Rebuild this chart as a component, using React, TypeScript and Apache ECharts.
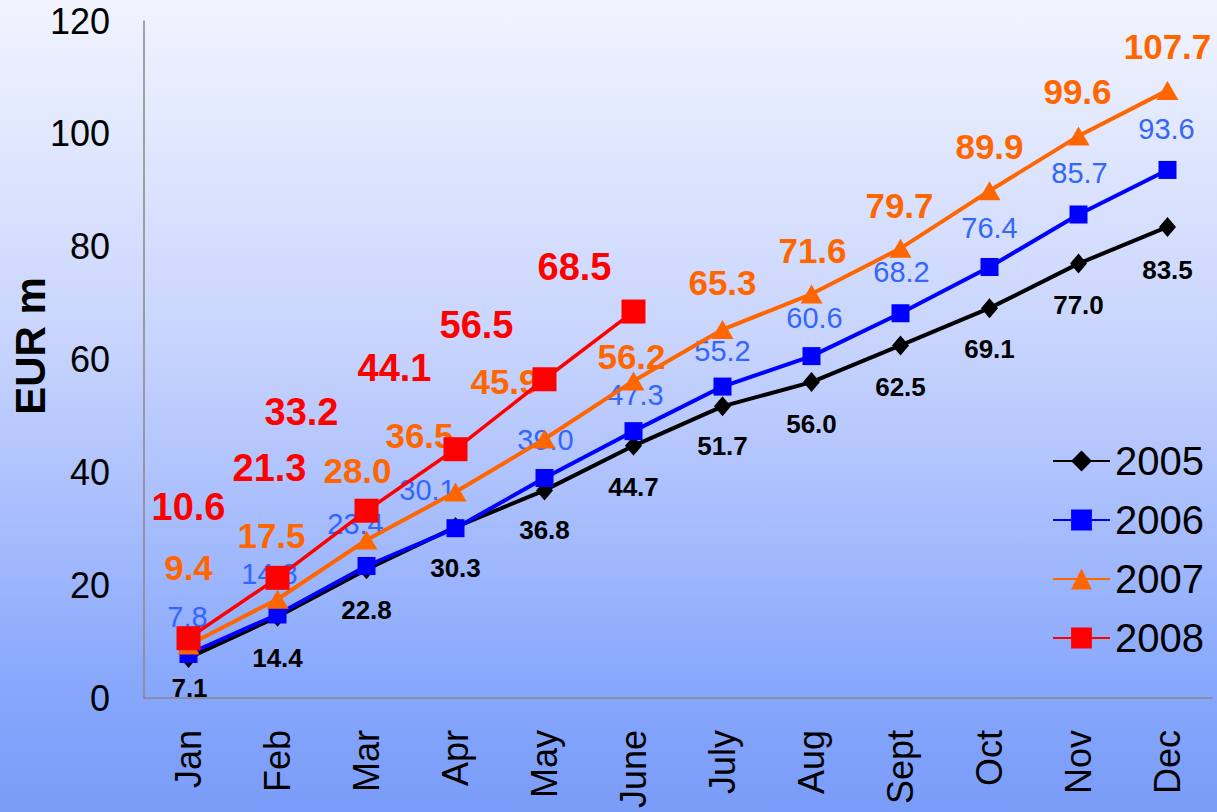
import React, { useEffect, useRef } from "react";
import * as echarts from "echarts";

const months = ["Jan", "Feb", "Mar", "Apr", "May", "June", "July", "Aug", "Sept", "Oct", "Nov", "Dec"];
const years = ["2005", "2006", "2007", "2008"];
const v2005 = [7.1, 14.4, 22.8, 30.3, 36.8, 44.7, 51.7, 56.0, 62.5, 69.1, 77.0, 83.5];
const v2006 = [7.8, 14.8, 23.4, 30.1, 39.0, 47.3, 55.2, 60.6, 68.2, 76.4, 85.7, 93.6];
const v2007 = [9.4, 17.5, 28.0, 36.5, 45.9, 56.2, 65.3, 71.6, 79.7, 89.9, 99.6, 107.7];
const v2008 = [10.6, 21.3, 33.2, 44.1, 56.5, 68.5];
const yTicks = { min: 0, max: 120, interval: 20 };

// label offsets (style only): [dx, dy] from each marker centre
const off2005 = [[1, 30], [0, 41], [0, 41], [0, 41], [0, 40], [0, 41], [0, 40], [0, 42], [0, 42], [0, 41], [0, 41], [0, 43]];
const off2006 = [[-1, -37], [-8, -41], [-11, -42], [-28, -38], [1, -38], [2, -36], [0, -36], [3, -38], [1, -41], [0, -39], [1, -42], [-1, -41]];
const off2007 = [[0, -77], [-6, -64], [-9, -70], [-36, -57], [-40, -58], [-2, -24], [0, -47], [1, -44], [-1, -43], [0, -44], [-1, -45], [0, -44]];
const off2008 = [[0, -131], [-8, -110], [-65, -99], [-61, -81], [-68, -54], [-59, -45]];

const FONT = "'Liberation Sans', Arial, sans-serif";

function withOffsets(vals: number[], offs: number[][]) {
  return vals.map((v, i) => ({ value: v, label: { offset: offs[i] } }));
}

export default function App() {
  const ref = useRef<HTMLDivElement>(null);
  useEffect(() => {
    document.body.style.margin = "0";
    const chart = echarts.init(ref.current!, null, { renderer: "svg" });
    const fmt = (p: any) => Number(p.value).toFixed(1);
    const series: any[] = [
      {
        name: years[0], type: "line", data: withOffsets(v2005, off2005), z: 2,
        symbol: "diamond", symbolSize: [17, 20],
        lineStyle: { color: "#000000", width: 4 }, itemStyle: { color: "#000000" },
        label: { show: true, position: "inside", formatter: fmt, color: "#000000", fontSize: 26, fontWeight: "bold", fontFamily: FONT },
      },
      {
        name: years[1], type: "line", data: withOffsets(v2006, off2006), z: 3,
        symbol: "rect", symbolSize: 18,
        lineStyle: { color: "#0000FF", width: 4 }, itemStyle: { color: "#0000FF" },
        label: { show: true, position: "inside", formatter: fmt, color: "#3366FF", fontSize: 29, fontFamily: FONT },
      },
      {
        name: years[2], type: "line", data: withOffsets(v2007, off2007), z: 4,
        symbol: "triangle", symbolSize: [22, 19],
        lineStyle: { color: "#FF6600", width: 4 }, itemStyle: { color: "#FF6600" },
        label: { show: true, position: "inside", formatter: fmt, color: "#FF6600", fontSize: 35, fontWeight: "bold", fontFamily: FONT },
      },
      {
        name: years[3], type: "line", data: withOffsets(v2008, off2008), z: 5,
        symbol: "rect", symbolSize: 24,
        lineStyle: { color: "#FF0000", width: 3.5 }, itemStyle: { color: "#FF0000" },
        label: { show: true, position: "inside", formatter: fmt, color: "#FF0000", fontSize: 38, fontWeight: "bold", fontFamily: FONT },
      },
    ];
    chart.setOption({
      animation: false,
      backgroundColor: {
        type: "linear", x: 0, y: 0, x2: 0, y2: 1,
        colorStops: [
          { offset: 0, color: "#F1F4FE" },
          { offset: 0.42, color: "#C8D4FD" },
          { offset: 0.86, color: "#86A6FC" },
          { offset: 1, color: "#7A9CF8" },
        ],
      },
      textStyle: { fontFamily: FONT },
      grid: { left: 144, right: 5, top: 21, bottom: 114, containLabel: false },
      legend: {
        data: years, orient: "vertical", left: 1047, top: 436,
        itemWidth: 57, itemHeight: 26, itemGap: 19,
        textStyle: { fontSize: 40, lineHeight: 40, color: "#000000", fontFamily: FONT },
      },
      graphic: [
        {
          type: "text", x: 30, y: 346, rotation: Math.PI / 2,
          style: { text: "EUR m", font: `bold 42px ${FONT}`, fill: "#000000", textAlign: "center", textVerticalAlign: "middle" },
        },
      ],
      xAxis: {
        type: "category", data: months, boundaryGap: true,
        axisLine: { lineStyle: { color: "#888888", width: 1.5 } },
        axisTick: { show: false },
        axisLabel: { rotate: 90, fontSize: 36, color: "#000000", margin: 32, fontFamily: FONT },
      },
      yAxis: {
        type: "value", min: yTicks.min, max: yTicks.max, interval: yTicks.interval,
        axisLine: { show: true, lineStyle: { color: "#888888", width: 1.5 } },
        axisTick: { show: false },
        splitLine: { show: false },
        axisLabel: { fontSize: 36, color: "#000000", margin: 34, fontFamily: FONT },
      },
      series,
    });
    return () => chart.dispose();
  }, []);
  return <div ref={ref} style={{ width: 1217, height: 812 }} />;
}
